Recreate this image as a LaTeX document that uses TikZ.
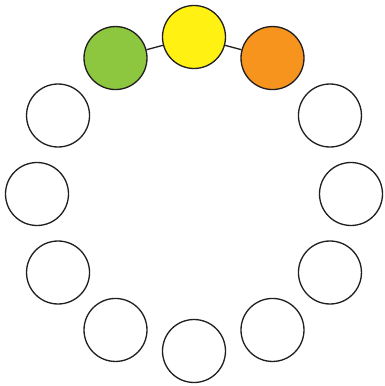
\documentclass[tikz,border=0pt]{standalone}
\usepackage{xcolor}
\definecolor{ringYellow}{HTML}{FFF212}
\definecolor{ringGreen}{HTML}{8DC63F}
\definecolor{ringOrange}{HTML}{F7941D}
\definecolor{ringLine}{HTML}{231F20}

\begin{document}
\begin{tikzpicture}[x=0.02cm, y=0.02cm]
  \filldraw[fill=white, draw=none] (-194,-192) rectangle (191,194);
  \node[circle, draw=ringLine, line width=0.75pt, minimum size=1.26cm, inner sep=0pt, fill=ringYellow] (N0) at (90:157) {};
  \node[circle, draw=ringLine, line width=0.75pt, minimum size=1.26cm, inner sep=0pt, fill=ringGreen] (N1) at (120:157) {};
  \node[circle, draw=ringLine, line width=0.75pt, minimum size=1.26cm, inner sep=0pt, fill=white] (N2) at (150:157) {};
  \node[circle, draw=ringLine, line width=0.75pt, minimum size=1.26cm, inner sep=0pt, fill=white] (N3) at (180:157) {};
  \node[circle, draw=ringLine, line width=0.75pt, minimum size=1.26cm, inner sep=0pt, fill=white] (N4) at (210:157) {};
  \node[circle, draw=ringLine, line width=0.75pt, minimum size=1.26cm, inner sep=0pt, fill=white] (N5) at (240:157) {};
  \node[circle, draw=ringLine, line width=0.75pt, minimum size=1.26cm, inner sep=0pt, fill=white] (N6) at (270:157) {};
  \node[circle, draw=ringLine, line width=0.75pt, minimum size=1.26cm, inner sep=0pt, fill=white] (N7) at (300:157) {};
  \node[circle, draw=ringLine, line width=0.75pt, minimum size=1.26cm, inner sep=0pt, fill=white] (N8) at (330:157) {};
  \node[circle, draw=ringLine, line width=0.75pt, minimum size=1.26cm, inner sep=0pt, fill=white] (N9) at (0:157) {};
  \node[circle, draw=ringLine, line width=0.75pt, minimum size=1.26cm, inner sep=0pt, fill=white] (N10) at (30:157) {};
  \node[circle, draw=ringLine, line width=0.75pt, minimum size=1.26cm, inner sep=0pt, fill=ringOrange] (N11) at (60:157) {};
  \draw[ringLine, line width=0.75pt] (N0) -- (N1);
  \draw[ringLine, line width=0.75pt] (N0) -- (N11);
\end{tikzpicture}
\end{document}
